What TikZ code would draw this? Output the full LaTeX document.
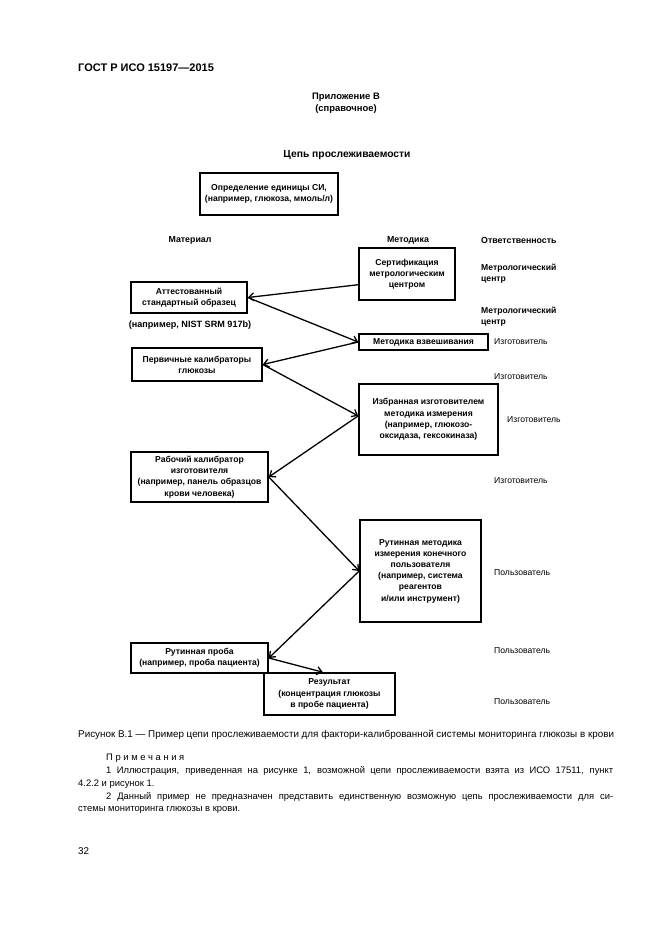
\documentclass[tikz,border=0pt]{standalone}
\usepackage{fontspec}
\setmainfont{Liberation Sans}
\usetikzlibrary{arrows.meta,calc}
\begin{document}
\begin{tikzpicture}[x=1pt,y=-1pt,
  box/.style={draw, line width=1.6pt, align=center, inner sep=0pt,
    font=\bfseries\fontsize{8.6}{11.2}\selectfont},
  lbl/.style={align=center, inner sep=0pt, font=\bfseries\fontsize{8.8}{11.2}\selectfont},
  side/.style={anchor=west, align=left, inner sep=0pt, font=\fontsize{8.6}{11.2}\selectfont},
  sideb/.style={anchor=west, align=left, inner sep=0pt, font=\bfseries\fontsize{8.6}{11.2}\selectfont},
  arr/.style={line width=1.3pt, -{Straight Barb[length=5pt,width=8pt]}},
  txt/.style={anchor=west, inner sep=0pt, font=\fontsize{9.85}{13}\selectfont},
  note/.style={anchor=west, inner sep=0pt, font=\fontsize{9.4}{13}\selectfont}]
\useasboundingbox[fill=white] (0,0) rectangle (661,935);

% page headings
\node[anchor=west, inner sep=0pt, font=\bfseries\fontsize{11}{12}\selectfont] (gost) at (78,68) {ГОСТ Р ИСО 15197—2015};
\node[align=center, inner sep=0pt, font=\bfseries\fontsize{9.4}{12}\selectfont] (app) at (346,103) {Приложение В\\(справочное)};
\node[inner sep=0pt, font=\bfseries\fontsize{10.3}{12}\selectfont] (title) at (347,155) {Цепь прослеживаемости};

% boxes
\node[box, minimum width=138, minimum height=42] (def) at (269,194) {Определение единицы СИ,\\(например, глюкоза, ммоль/л)};
\node[box, minimum width=96, minimum height=52] (cert) at (407,274) {Сертификация\\метрологическим\\центром};
\node[box, minimum width=116, minimum height=31] (att) at (189,297.5) {Аттестованный\\стандартный образец};
\node[box, minimum width=129, minimum height=16] (meth) at (423.5,342) {Методика взвешивания};
\node[box, minimum width=130, minimum height=33] (prim) at (197,364.5) {Первичные калибраторы\\глюкозы};
\node[box, minimum width=139, minimum height=71] (sel) at (428.5,419.5) {Избранная изготовителем\\методика измерения\\(например, глюкозо-\\оксидаза, гексокиназа)};
\node[box, minimum width=137, minimum height=50] (work) at (199.5,477) {Рабочий калибратор\\изготовителя\\(например, панель образцов\\крови человека)};
\node[box, minimum width=121, minimum height=102] (rout) at (420.5,571) {Рутинная методика\\измерения конечного\\пользователя\\(например, система\\реагентов\\и/или инструмент)};
\node[box, minimum width=137, minimum height=30] (samp) at (199.5,658) {Рутинная проба\\(например, проба пациента)};
\node[box, minimum width=131, minimum height=42] (res) at (329.5,694) {Результат\\(концентрация глюкозы\\в пробе пациента)};

% column labels
\node[lbl] (cmat) at (190,240) {Материал};
\node[lbl] (cmeth) at (408,240) {Методика};
\node[sideb, font=\bfseries\fontsize{8.8}{11.2}\selectfont] (cresp) at (481,240) {Ответственность};
\node[lbl, font=\bfseries\fontsize{9.1}{11.2}\selectfont] (attx) at (190,325) {(например, NIST SRM 917b)};
\node[sideb] (r1) at (481,274) {Метрологический\\центр};
\node[sideb] (r2) at (481,316.5) {Метрологический\\центр};
\node[side] (r3) at (494,342) {Изготовитель};
\node[side] (r4) at (494,377) {Изготовитель};
\node[side] (r5) at (507,420) {Изготовитель};
\node[side] (r6) at (494,481) {Изготовитель};
\node[side] (r7) at (494,573) {Пользователь};
\node[side] (r8) at (494,651) {Пользователь};
\node[side] (r9) at (494,702) {Пользователь};

% connectors
\coordinate (c1) at ($(cert.north west)!0.7!(cert.south west)$);
\draw[arr] (c1) -- (att.east);
\draw[arr] (att.east) -- (meth.west);
\draw[arr] (meth.west) -- (prim.east);
\coordinate (c4) at ($(sel.north west)!0.45!(sel.south west)$);
\draw[arr] (prim.east) -- (c4);
\draw[arr] (c4) -- (work.east);
\coordinate (c6) at ($(rout.north west)!0.5!(rout.south west)$);
\draw[arr] (work.east) -- (c6);
\draw[arr] (c6) -- (samp.east);
\coordinate (c8) at ($(res.north west)!0.45!(res.north east)$);
\draw[arr] (samp.east) -- (c8);

% caption and notes
\node[txt] (cap) at (78,735) {Рисунок В.1 — Пример цепи прослеживаемости для фактори-калиброванной системы мониторинга глюкозы в крови};
\node[note] (nh) at (106,758) {П р и м е ч а н и я};
\node[note] (n1a) at (106,771) {\makebox[507pt][s]{1 Иллюстрация, приведенная на рисунке 1, возможной цепи прослеживаемости взята из ИСО 17511, пункт}};
\node[note] (n1b) at (78,784) {4.2.2 и рисунок 1.};
\node[note] (n2a) at (106,797) {\makebox[507pt][s]{2 Данный пример не предназначен представить единственную возможную цепь прослеживаемости для си-}};
\node[note] (n2b) at (78,810) {стемы мониторинга глюкозы в крови.};
\node[txt] (page) at (78,851) {32};
\end{tikzpicture}
\end{document}
